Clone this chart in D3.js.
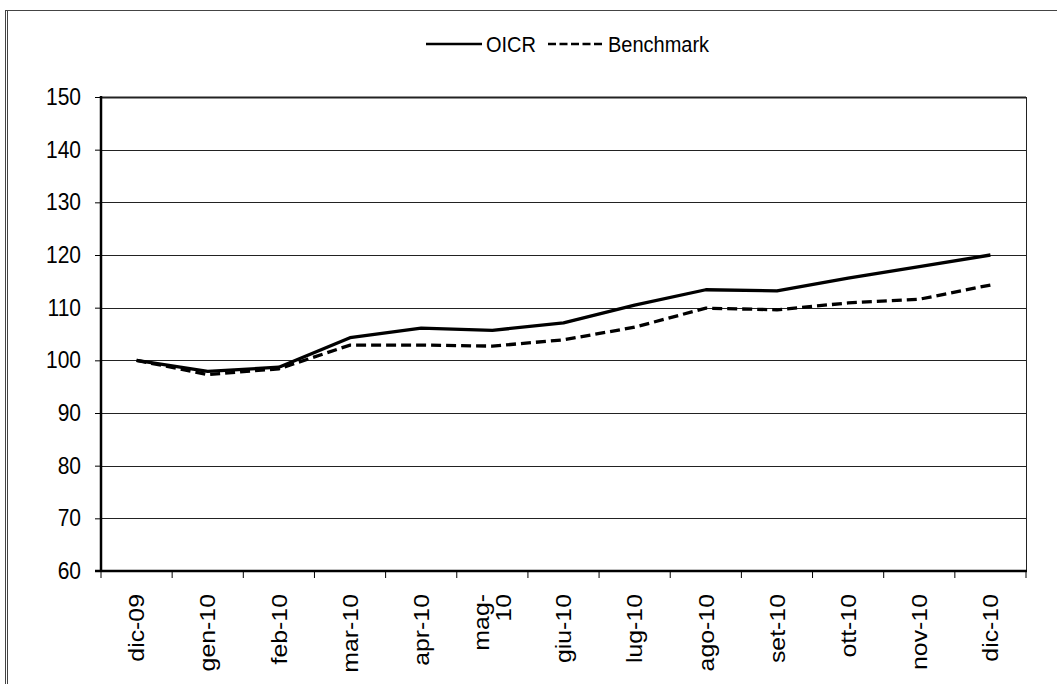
<!DOCTYPE html>
<html>
<head>
<meta charset="utf-8">
<script src="https://cdn.jsdelivr.net/npm/d3@7"></script>
<style>
  body { margin: 0; background: #fff; }
  svg { display: block; }
  text { font-family: 'Liberation Sans', Arial, sans-serif; fill: #000; }
</style>
</head>
<body>
<svg id="chart" width="1057" height="684"></svg>
<script>
// data
var months = ['dic-09', 'gen-10', 'feb-10', 'mar-10', 'apr-10', 'mag-\n10', 'giu-10',
  'lug-10', 'ago-10', 'set-10', 'ott-10', 'nov-10', 'dic-10'];
var oicr = [100, 97.9, 98.7, 104.3, 106.1, 105.7, 107.1, 110.5, 113.4, 113.2, 115.6, 117.8, 120.0];
var benchmark = [100, 97.3, 98.4, 102.9, 102.9, 102.7, 103.9, 106.3, 109.9, 109.6, 110.9, 111.6, 114.3];
var yTicks = [60, 70, 80, 90, 100, 110, 120, 130, 140, 150];

var margin = { top: 97, left: 101, right: 31, bottom: 113 };
var width = 1057 - margin.left - margin.right;
var height = 684 - margin.top - margin.bottom;
var stretch = 1.13; // the source text is a bit taller than wide

var svg = d3.select('#chart');

// outer frame
svg.append('line').attr('x1', 5.5).attr('x2', 5.5).attr('y1', 10).attr('y2', 684)
  .attr('stroke', '#444').attr('stroke-width', 1);
svg.append('line').attr('x1', 7.5).attr('x2', 7.5).attr('y1', 10).attr('y2', 684)
  .attr('stroke', '#444').attr('stroke-width', 1);
svg.append('line').attr('x1', 5).attr('x2', 1057).attr('y1', 10.5).attr('y2', 10.5)
  .attr('stroke', '#444').attr('stroke-width', 1);

var g = svg.append('g')
  .attr('transform', 'translate(' + margin.left + ', ' + margin.top + ')');

var xScale = d3.scaleBand()
  .domain(months)
  .range([0, width])
  .padding(0);
var yScale = d3.scaleLinear()
  .domain([60, 150])
  .range([height, 0]);

function xc(d) {
  return xScale(d) + xScale.bandwidth() / 2;
}

// gridlines
g.selectAll('.grid')
  .data(yTicks)
  .enter()
  .append('line')
  .attr('class', 'grid')
  .attr('x1', 0)
  .attr('x2', width)
  .attr('y1', function (d) { return Math.round(yScale(d)) + 0.5; })
  .attr('y2', function (d) { return Math.round(yScale(d)) + 0.5; })
  .attr('stroke', '#222')
  .attr('stroke-width', function (d) { return d === 150 ? 2 : 1; });

// right border
g.append('line')
  .attr('x1', width + 0.5).attr('x2', width + 0.5)
  .attr('y1', 0).attr('y2', height)
  .attr('stroke', '#222').attr('stroke-width', 1);

// y axis
var yAxis = d3.axisLeft()
  .scale(yScale)
  .tickValues(yTicks)
  .tickSize(6)
  .tickPadding(14);
var yg = g.append('g').call(yAxis);
yg.select('.domain').remove();
yg.selectAll('.tick line').attr('stroke', '#000').attr('stroke-width', 1);
yg.selectAll('.tick text')
  .attr('font-size', '21px')
  .attr('font-family', "'Liberation Sans', Arial, sans-serif")
  .attr('fill', '#000')
  .attr('transform', 'scale(1, ' + stretch + ')');
g.append('line')
  .attr('x1', 0).attr('x2', 0)
  .attr('y1', -1).attr('y2', height + 1)
  .attr('stroke', '#000').attr('stroke-width', 2.5);

// x axis baseline and ticks at category borders
g.append('line')
  .attr('x1', -6).attr('x2', width + 1)
  .attr('y1', height).attr('y2', height)
  .attr('stroke', '#000').attr('stroke-width', 2.5);
var tickPos = months.map(function (d) { return xScale(d); }).concat([width]);
g.selectAll('.xtick')
  .data(tickPos)
  .enter()
  .append('line')
  .attr('class', 'xtick')
  .attr('x1', function (d) { return d; })
  .attr('x2', function (d) { return d; })
  .attr('y1', height)
  .attr('y2', height + 7)
  .attr('stroke', '#000')
  .attr('stroke-width', 1);

// rotated month labels
var labels = g.selectAll('.xlabel')
  .data(months)
  .enter()
  .append('text')
  .attr('class', 'xlabel')
  .attr('transform', function (d) {
    return 'translate(' + xc(d) + ', ' + (height + 23) + ') rotate(-90) scale(' + stretch + ', 1)';
  })
  .attr('text-anchor', 'end')
  .attr('font-size', '22px');
labels.each(function (d) {
  var parts = d.split('\n');
  var t = d3.select(this);
  parts.forEach(function (p, i) {
    t.append('tspan')
      .attr('x', 0)
      .attr('y', (i - (parts.length - 1) / 2) * 22)
      .attr('dy', '0.35em')
      .text(p);
  });
});

// series lines
var line = d3.line()
  .x(function (d, i) { return xc(months[i]); })
  .y(function (d) { return yScale(d); });

g.append('path')
  .datum(benchmark)
  .attr('d', line)
  .attr('fill', 'none')
  .attr('stroke', '#000')
  .attr('stroke-width', 3.3)
  .attr('stroke-dasharray', '10,5');

g.append('path')
  .datum(oicr)
  .attr('d', line)
  .attr('fill', 'none')
  .attr('stroke', '#000')
  .attr('stroke-width', 3.3)
  .attr('stroke-linejoin', 'round');

// legend
var legend = svg.append('g').attr('transform', 'translate(426, 44)');
legend.append('line')
  .attr('x1', 0).attr('x2', 56).attr('y1', 0).attr('y2', 0)
  .attr('stroke', '#000').attr('stroke-width', 2.5);
legend.append('text')
  .attr('x', 60).attr('dy', '0.35em')
  .attr('font-size', '20px')
  .attr('transform', 'scale(1, ' + stretch + ')')
  .text('OICR');
legend.append('line')
  .attr('x1', 122).attr('x2', 176).attr('y1', 0).attr('y2', 0)
  .attr('stroke', '#000').attr('stroke-width', 2.5)
  .attr('stroke-dasharray', '8,3.5');
legend.append('text')
  .attr('x', 182).attr('dy', '0.35em')
  .attr('font-size', '20px')
  .attr('transform', 'scale(1, ' + stretch + ')')
  .text('Benchmark');
</script>
</body>
</html>
